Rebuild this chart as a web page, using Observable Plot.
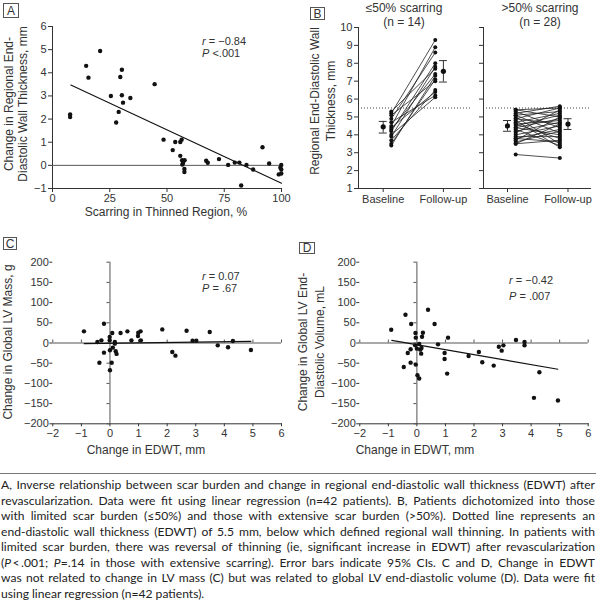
<!DOCTYPE html>
<html>
<head>
<meta charset="utf-8">
<script src="https://cdn.jsdelivr.net/npm/d3@7"></script>
<script src="https://cdn.jsdelivr.net/npm/@observablehq/plot@0.6"></script>
<style>
  html, body { margin: 0; padding: 0; background: #fff; }
  #root { position: relative; width: 596px; height: 600px; overflow: hidden; font-family: "Liberation Sans", Arial, sans-serif; color: #333; }
  .abs { position: absolute; }
  .svgwrap { position: absolute; }
  .svgwrap svg { overflow: visible; }
  .ylab { position: absolute; transform: translate(-50%, -50%) rotate(-90deg); white-space: nowrap; text-align: center; font-size: 12px; }
  .xlab { position: absolute; transform: translateX(-50%); white-space: nowrap; font-size: 12px; }
  .letter { position: absolute; border: 1px solid #555; box-sizing: border-box; font-size: 12px; display: flex; align-items: center; justify-content: center; color: #333; }
  .stat { position: absolute; font-size: 11px; white-space: nowrap; }
  .ttl { position: absolute; transform: translateX(-50%); white-space: nowrap; font-size: 12px; text-align: center; line-height: 14px; }
  #caption { position: absolute; left: 1px; top: 477px; width: 594px; font-family: Lato, "Noto Sans", sans-serif; font-size: 12.1px; line-height: 15.5px; color: #222; }
  #caption div { text-align: justify; text-align-last: justify; white-space: nowrap; }
  #caption div.last { text-align-last: left; }
</style>
</head>
<body>
<div id="root"></div>
<script>
// ---------------- Panel A data ----------------
const scarPct = [7.7, 7.7, 14.7, 15.7, 20.8, 25.5, 28.9, 27.8, 29.6, 30.3, 30.3, 30.8, 34.0, 44.6,
  48.5, 52.5, 53.6, 55.8, 56.4, 55.8, 56.6, 56.7, 57.7, 57.6, 57.6, 67.1, 67.8, 72.7, 76.7,
  79.6, 81.6, 82.4, 84.7, 87.6, 91.7, 94.6, 98.8, 99.9, 99.9, 99.9, 57.0, 99.5];
const changeEDWT_A = [2.2, 2.09, 4.3, 3.79, 4.94, 3.0, 2.31, 1.85, 3.82, 4.13, 3.03, 2.71, 2.91, 3.51,
  1.11, 0.66, 1.01, 1.01, 1.11, 0.41, 0.22, 0.04, 0.22, -0.16, -0.29, 0.2, 0.11, 0.27, 0.02,
  0.12, 0.12, -0.87, 0.02, -0.18, 0.78, 0.08, -0.39, 0.02, -0.18, -0.35, 0.1, -0.1];
const fitA_x = [8, 100];
const fitA_y = [3.47, -0.77];
const xTicksA = [0, 25, 50, 75, 100];
const yTicksA = [-1, 0, 1, 2, 3, 4, 5, 6];

// ---------------- Panel B data ----------------
const timepoints = ["Baseline", "Follow-up"];
const lowScarBaseline = [5.3, 5.2, 5.1, 4.9, 4.7, 4.5, 4.4, 4.3, 4.2, 4.0, 3.9, 3.7, 3.5, 3.4];
const lowScarFollowUp = [7.7, 9.3, 7.0, 8.6, 6.2, 8.9, 6.4, 7.4, 8.0, 6.1, 7.8, 6.5, 7.1, 7.3];
const highScarBaseline = [5.4, 5.4, 5.3, 5.2, 5.1, 5.1, 5.0, 4.9, 4.9, 4.8, 4.7, 4.6, 4.6, 4.5,
  4.4, 4.4, 4.3, 4.2, 4.1, 4.0, 3.9, 3.8, 3.8, 3.7, 3.6, 3.5, 3.5, 2.9];
const highScarFollowUp = [5.0, 5.5, 4.4, 5.6, 4.1, 5.3, 3.5, 5.5, 4.6, 3.3, 5.2, 4.8, 3.8, 5.1,
  4.0, 4.9, 3.4, 4.7, 5.4, 4.5, 3.9, 4.3, 3.6, 5.0, 4.2, 3.7, 4.6, 2.7];
// means and 95% CIs [baseline, follow-up]
const lowScarMean = [4.45, 7.55];
const lowScarLo = [4.1, 6.95];
const lowScarHi = [4.75, 8.15];
const highScarMean = [4.5, 4.6];
const highScarLo = [4.2, 4.3];
const highScarHi = [4.8, 4.9];
const thinningThreshold = 5.5;
const yTicksB = [1, 2, 3, 4, 5, 6, 7, 8, 9, 10];

// ---------------- Panel C data ----------------
const changeEDWT_C = [-0.91, -0.44, -0.37, -0.30, -0.21, -0.21, -0.01, -0.01, 0, 0, 0.06, 0.08, 0.1,
  0.17, 0.17, 0.2, 0.23, 0.37, 0.61, 0.75, 0.98, 0.99, 1.07, 1.08, 1.83, 2.18, 2.29, 2.68, 2.89,
  3.02, 3.49, 3.77, 4.13, 4.3, 4.93];
const changeMass = [28.8, 2.5, -49, 6.6, 47.7, -23.9, 14.8, 6.6, -18, -67.5, -49, 24.7, -11.5,
  2.5, -1.6, -20.6, -27, 24.7, 28.8, 6.6, 17.3, 25.5, 28.8, 6.6, 33.7, -22.2, -31.3, 30.5, 5.8,
  5.8, 27.2, -5.8, -10.7, 4.9, -17.3];
const fitC_x = [-0.9, 4.93];
const fitC_y = [-1.6, 4.1];

// ---------------- Panel D data ----------------
const changeEDWT_D = [-0.9, -0.4, -0.2, -0.46, -0.32, -0.22, -0.22, -0.05, -0.04, -0.06, -0.04, 0,
  0.02, 0.08, 0.08, 0.12, 0.15, 0.16, 0.18, 0.21, 0.39, 0.62, 0.74, 0.97, 0.97, 1.06, 1.09, 1.81,
  2.17, 2.29, 2.69, 2.87, 2.97, 3.03, 3.47, 3.77, 3.77, 4.1, 4.29, 4.94];
const changeEDV = [32.9, 70, 46.9, -59.3, -24.7, -15.6, -48.6, 24.7, 13.2, -5.8, -53.5, -14,
  -79.8, -88, -2.5, -16.5, -26.3, -12.3, 15.6, 25.5, 82.3, 46.9, -3.3, -24.7, -39.5, -75.7, 13.2,
  -32.1, -22.2, -47.7, -56, -9.1, -18.9, -5.8, 7.4, 2.5, -5.8, -135.8, -72.4, -142.4];
const fitD_x = [-0.88, 4.94];
const fitD_y = [6.6, -65];
const xTicksCD = [-2, -1, 0, 1, 2, 3, 4, 5, 6];
const yTicksCD = [-200, -150, -100, -50, 0, 50, 100, 150, 200];

// ---------------- helpers ----------------
const root = document.getElementById("root");
const AX = "#555";
const style = {fontFamily: '"Liberation Sans", Arial, sans-serif', fontSize: "11px", color: "#333", background: "transparent", overflow: "visible"};
const intFmt = d => String(d).replace("-", "−");

function place(node, left, top) {
  const w = document.createElement("div");
  w.className = "svgwrap";
  w.style.left = left + "px";
  w.style.top = top + "px";
  w.appendChild(node);
  root.appendChild(w);
}
function html(cls, left, top, content, extra) {
  const d = document.createElement("div");
  d.className = cls;
  d.style.left = left + "px";
  d.style.top = top + "px";
  d.innerHTML = content;
  if (extra) Object.assign(d.style, extra);
  root.appendChild(d);
  return d;
}
const idx = n => d3.range(n);

// ---------------- Panel A ----------------
const dataA = scarPct.map((x, i) => ({x, y: changeEDWT_A[i]}));
const fitA = fitA_x.map((x, i) => ({x, y: fitA_y[i]}));
place(Plot.plot({
  width: 300, height: 210,
  marginLeft: 52, marginRight: 19, marginTop: 26, marginBottom: 22,
  style,
  x: {domain: [0, 100], ticks: xTicksA, tickFormat: intFmt, tickSize: 4, tickPadding: 2, line: true, label: null},
  y: {domain: [-1, 6], ticks: yTicksA, tickFormat: intFmt, tickSize: 4, tickPadding: 2, line: true, label: null},
  marks: [
    Plot.ruleY([0], {stroke: AX, strokeWidth: 1}),
    Plot.line(fitA, {x: "x", y: "y", stroke: "#111", strokeWidth: 1.1}),
    Plot.dot(dataA, {x: "x", y: "y", r: 2.2, fill: "#111", stroke: "none"})
  ]
}), 0, 0);

// ---------------- Panel B ----------------
const dotInset = 0.135;   // horizontal offset of individual dots from the summary bar
const capHalf = 0.066;
function panelB(base, fol, mean, lo, hi, domain, showLabels, width, mL, mR) {
  const n = base.length;
  const ci = [0, 1].map(k => ({x: k, m: mean[k], lo: lo[k], hi: hi[k]}));
  return Plot.plot({
    width, height: 210,
    marginLeft: mL, marginRight: mR, marginTop: 27, marginBottom: 22,
    style,
    x: {domain, ticks: [0, 1], tickFormat: k => timepoints[k], tickSize: 4, tickPadding: 3, line: true, label: null},
    y: {domain: [1, 10], ticks: yTicksB, tickSize: 4, tickPadding: 2, line: true, label: null,
        tickFormat: showLabels ? intFmt : () => ""},
    marks: [
      Plot.ruleY([thinningThreshold], {stroke: "#444", strokeWidth: 1, strokeDasharray: "1,2"}),
      Plot.link(idx(n), {x1: () => dotInset, x2: () => 1 - dotInset, y1: i => base[i], y2: i => fol[i], stroke: "#222", strokeWidth: 0.8}),
      Plot.dot(idx(n), {x: () => dotInset, y: i => base[i], r: 2, fill: "#111", stroke: "none"}),
      Plot.dot(idx(n), {x: () => 1 - dotInset, y: i => fol[i], r: 2, fill: "#111", stroke: "none"}),
      Plot.ruleX(ci, {x: "x", y1: "lo", y2: "hi", stroke: "#333", strokeWidth: 1}),
      Plot.ruleY(ci, {y: "lo", x1: d => d.x - capHalf, x2: d => d.x + capHalf, stroke: "#333", strokeWidth: 1}),
      Plot.ruleY(ci, {y: "hi", x1: d => d.x - capHalf, x2: d => d.x + capHalf, stroke: "#333", strokeWidth: 1}),
      Plot.dot(ci, {x: "x", y: "m", r: 2.6, fill: "#111", stroke: "none"})
    ]
  });
}
place(panelB(lowScarBaseline, lowScarFollowUp, lowScarMean, lowScarLo, lowScarHi, [-0.41, 1.45], true, 172, 58, 2), 300, 0);
place(panelB(highScarBaseline, highScarFollowUp, highScarMean, highScarLo, highScarHi, [-0.397, 1.372], false, 118, 5, 6), 478, 0);

// ---------------- Panels C & D ----------------
function panelCD(xs, ys, fx, fy, width, mL, mR) {
  const data = xs.map((x, i) => ({x, y: ys[i]}));
  const fit = fx.map((x, i) => ({x, y: fy[i]}));
  const pxPerX = (width - mL - mR) / 8;
  const pxPerY = (213 - 31.7 - 19.7) / 400;
  const tickLx = 3 / pxPerX, tickLy = 3 / pxPerY;
  return Plot.plot({
    width, height: 213,
    marginLeft: mL, marginRight: mR, marginTop: 31.7, marginBottom: 19.7,
    style,
    x: {domain: [-2, 6], ticks: xTicksCD, tickFormat: intFmt, tickSize: 3, tickPadding: 2, line: true, label: null},
    y: {domain: [-200, 200], ticks: yTicksCD, tickFormat: intFmt, tickSize: 3, tickPadding: 1, label: null},
    marks: [
      Plot.ruleY([0], {stroke: AX, strokeWidth: 1}),
      Plot.ruleX([0], {stroke: AX, strokeWidth: 1}),
      Plot.ruleY(yTicksCD, {y: d => d, x1: -tickLx, x2: 0, stroke: AX, strokeWidth: 1}),
      Plot.ruleX(xTicksCD.filter(d => d !== 0), {x: d => d, y1: 0, y2: tickLy, stroke: AX, strokeWidth: 1}),
      Plot.line(fit, {x: "x", y: "y", stroke: "#111", strokeWidth: 1.1}),
      Plot.dot(data, {x: "x", y: "y", r: 2.2, fill: "#111", stroke: "none"})
    ]
  });
}
place(panelCD(changeEDWT_C, changeMass, fitC_x, fitC_y, 300, 52.3, 19), 0, 230);
place(panelCD(changeEDWT_D, changeEDV, fitD_x, fitD_y, 296, 59.3, 8.3), 300, 230);

// ---------------- Text overlays ----------------
html("letter", 3, 3, "A", {width: "16px", height: "15px"});
html("letter", 310, 7, "B", {width: "15px", height: "13px"});
html("letter", 3, 237, "C", {width: "14px", height: "13px"});
html("letter", 299, 242, "D", {width: "16px", height: "12px"});

html("ylab", 16, 104, "Change in Regional End-<br>Diastolic Wall Thickness, mm", {lineHeight: "14px"});
html("ylab", 323, 101, "Regional End-Diastolic Wall<br>Thickness, mm", {lineHeight: "15.5px"});
html("ylab", 8, 342, "Change in Global LV Mass, g", {lineHeight: "14px"});
html("ylab", 312, 342, "Change in Global LV End-<br>Diastolic Volume, mL", {lineHeight: "17px"});

html("xlab", 166, 205, "Scarring in Thinned Region, %");
html("xlab", 146, 443, "Change in EDWT, mm");
html("xlab", 415, 443, "Change in EDWT, mm");

html("ttl", 404, 1, "≤50% scarring<br>(n = 14)");
html("ttl", 540, 1, "&gt;50% scarring<br>(n = 28)");

html("stat", 202, 36, "<i>r</i> = −0.84<br><i>P</i> &lt;.001", {lineHeight: "11.8px"});
html("stat", 202, 270, "<i>r</i> = 0.07<br><i>P</i> = .67", {lineHeight: "12.4px"});
html("stat", 509, 273, "<i>r</i> = −0.42<br><i>P</i> = .007", {lineHeight: "15.7px"});

// separator
html("abs", 0, 473, "", {width: "596px", height: "1px", background: "#777"});

// ---------------- Caption ----------------
const captionLines = [
  "A, Inverse relationship between scar burden and change in regional end-diastolic wall thickness (EDWT) after",
  "revascularization. Data were fit using linear regression (n=42 patients). B, Patients dichotomized into those",
  "with limited scar burden (≤50%) and those with extensive scar burden (&gt;50%). Dotted line represents an",
  "end-diastolic wall thickness (EDWT) of 5.5 mm, below which defined regional wall thinning. In patients with",
  "limited scar burden, there was reversal of thinning (ie, significant increase in EDWT) after revascularization",
  "(<i>P</i>&thinsp;&lt;&thinsp;.001; <i>P</i>=.14 in those with extensive scarring). Error bars indicate 95% CIs. C and D, Change in EDWT",
  "was not related to change in LV mass (C) but was related to global LV end-diastolic volume (D). Data were fit",
  "using linear regression (n=42 patients)."
];
const cap = document.createElement("div");
cap.id = "caption";
captionLines.forEach((t, i) => {
  const d = document.createElement("div");
  if (i === captionLines.length - 1) d.className = "last";
  d.innerHTML = t;
  cap.appendChild(d);
});
root.appendChild(cap);
</script>
</body>
</html>
